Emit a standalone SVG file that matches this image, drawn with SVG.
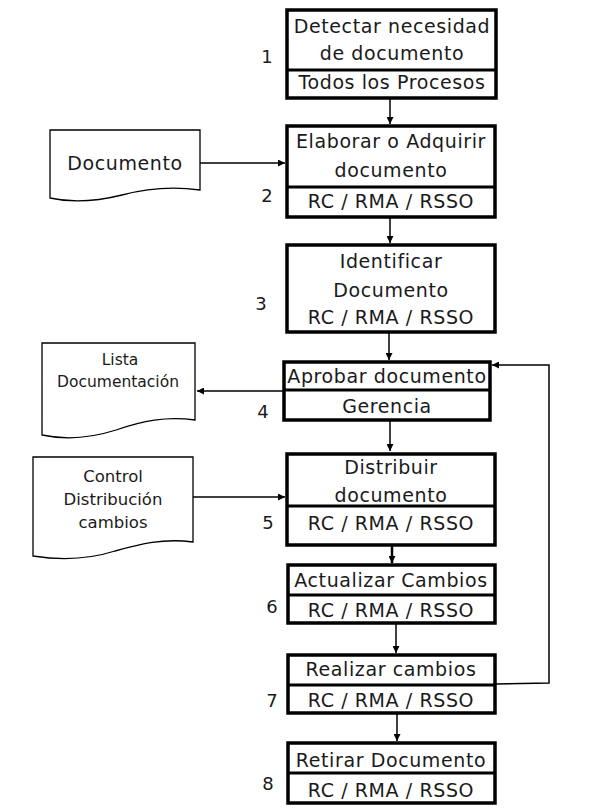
<svg xmlns="http://www.w3.org/2000/svg" width="598" height="808" viewBox="0 0 598 808">
<style>
.box{fill:#fff;stroke:#000;stroke-width:3.5}
.div{stroke:#000;stroke-width:3}
.doc{fill:#fff;stroke:#000;stroke-width:1.3}
.t{font-family:"DejaVu Sans","Noto Sans",sans-serif;font-size:19px;letter-spacing:0.6px;fill:#1a1a1a;text-anchor:middle}
.s{font-family:"DejaVu Sans","Noto Sans",sans-serif;font-size:15.5px;fill:#1a1a1a;text-anchor:middle}
.n{font-family:"DejaVu Sans","Noto Sans",sans-serif;font-size:18px;fill:#1a1a1a;text-anchor:middle}
.c{fill:none;stroke:#000;stroke-width:1.5}
</style>
<defs>
<marker id="ah" viewBox="0 0 10 10" refX="10" refY="5" markerWidth="7" markerHeight="7" markerUnits="userSpaceOnUse" orient="auto"><path d="M0,0 L10,5 L0,10 Z" fill="#000"/></marker>
</defs>
<g id="connectors">
<path class="c" d="M390,98 V124" marker-end="url(#ah)"/>
<path class="c" d="M200,163 H285" marker-end="url(#ah)"/>
<path class="c" d="M390,217 V243" marker-end="url(#ah)"/>
<path class="c" d="M389,332 V360" marker-end="url(#ah)"/>
<path class="c" d="M283,391 H197" marker-end="url(#ah)"/>
<path class="c" d="M390,420 V451" marker-end="url(#ah)"/>
<path class="c" d="M193,497 H285" marker-end="url(#ah)"/>
<path class="c" style="stroke-width:2.5" d="M392,545 V563" marker-end="url(#ah)"/>
<path class="c" d="M396,623 V653" marker-end="url(#ah)"/>
<path class="c" d="M495,684 L549,683 V365 H492" marker-end="url(#ah)"/>
<path class="c" d="M397,713 V741" marker-end="url(#ah)"/>
</g>
<g id="n1">
<rect class="box" x="287" y="10" width="209" height="88"/>
<line class="div" x1="287" y1="70" x2="496" y2="70"/>
<text class="t" x="392" y="33">Detectar necesidad</text>
<text class="t" x="392" y="60">de documento</text>
<text class="t" x="392" y="89">Todos los Procesos</text>
<text class="n" x="267" y="63">1</text>
</g>
<g id="doc1">
<path class="doc" d="M50,130 H200 V190 C172,186 148,188 122,195 C98,201 72,203 50,198 Z"/>
<text class="t" x="125" y="170">Documento</text>
</g>
<g id="n2">
<rect class="box" x="287" y="126" width="208" height="91"/>
<line class="div" x1="287" y1="187" x2="495" y2="187"/>
<text class="t" x="391" y="148">Elaborar o Adquirir</text>
<text class="t" x="391" y="177">documento</text>
<text class="t" x="391" y="208">RC / RMA / RSSO</text>
<text class="n" x="267" y="202">2</text>
</g>
<g id="n3">
<rect class="box" x="287" y="245" width="208" height="87"/>
<text class="t" x="391" y="268">Identificar</text>
<text class="t" x="391" y="297">Documento</text>
<text class="t" x="391" y="324">RC / RMA / RSSO</text>
<text class="n" x="261" y="310">3</text>
</g>
<g id="doc2">
<path class="doc" d="M42,343 H195 V420 C166,416 142,421 116,430 C94,437 70,441 42,435 Z"/>
<text class="s" x="120" y="365">Lista</text>
<text class="s" x="118" y="387">Documentación</text>
</g>
<g id="n4">
<rect class="box" x="284" y="362" width="206" height="58"/>
<line class="div" x1="284" y1="390" x2="490" y2="390"/>
<text class="t" x="387" y="383">Aprobar documento</text>
<text class="t" x="387" y="413">Gerencia</text>
<text class="n" x="263" y="418">4</text>
</g>
<g id="doc3">
<path class="doc" d="M33,457 H193 V542 C163,538 140,544 115,551 C93,558 65,561 33,556 Z"/>
<text class="s" style="font-size:16.5px" x="113" y="482">Control</text>
<text class="s" style="font-size:16.5px" x="113" y="505">Distribución</text>
<text class="s" style="font-size:16.5px" x="113" y="528">cambios</text>
</g>
<g id="n5">
<rect class="box" x="287" y="454" width="208" height="91"/>
<line class="div" x1="287" y1="506" x2="495" y2="506"/>
<text class="t" x="391" y="474">Distribuir</text>
<text class="t" x="391" y="502">documento</text>
<text class="t" x="391" y="530">RC / RMA / RSSO</text>
<text class="n" x="268" y="529">5</text>
</g>
<g id="n6">
<rect class="box" x="288" y="565" width="207" height="58"/>
<line class="div" x1="288" y1="595" x2="495" y2="595"/>
<text class="t" x="391" y="587">Actualizar Cambios</text>
<text class="t" x="391" y="617">RC / RMA / RSSO</text>
<text class="n" x="272" y="613">6</text>
</g>
<g id="n7">
<rect class="box" x="288" y="655" width="207" height="58"/>
<line class="div" x1="288" y1="685" x2="495" y2="685"/>
<text class="t" x="391" y="676">Realizar cambios</text>
<text class="t" x="391" y="707">RC / RMA / RSSO</text>
<text class="n" x="272" y="707">7</text>
</g>
<g id="n8">
<rect class="box" x="288" y="743" width="207" height="60"/>
<line class="div" x1="288" y1="773" x2="495" y2="773"/>
<text class="t" x="391" y="767">Retirar Documento</text>
<text class="t" x="391" y="797">RC / RMA / RSSO</text>
<text class="n" x="268" y="790">8</text>
</g>
</svg>
